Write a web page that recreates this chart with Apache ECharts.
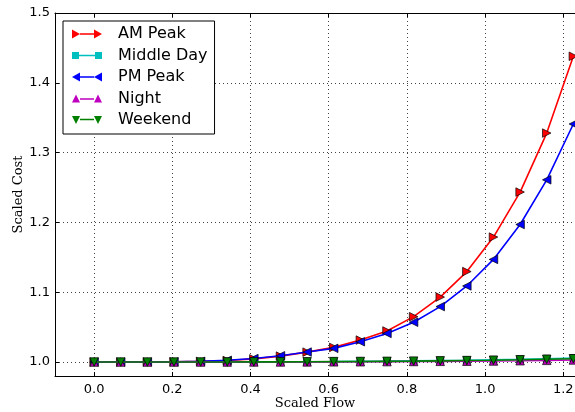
<!DOCTYPE html>
<html>
<head>
<meta charset="utf-8">
<script src="https://cdn.jsdelivr.net/npm/echarts@6/dist/echarts.min.js"></script>
<style>
html,body{margin:0;padding:0;background:#fff;}
#chart{width:575px;height:412px;}
</style>
</head>
<body>
<div id="chart"></div>
<script>
// ---- data ----
const flow = [0, 0.0681, 0.1362, 0.2043, 0.2724, 0.3405, 0.4086, 0.4767, 0.5448, 0.6129,
  0.681, 0.7491, 0.8172, 0.8853, 0.9534, 1.0215, 1.0896, 1.1577, 1.2258];
const amPeak = [1.0, 1.0, 1.0001, 1.0003, 1.0009, 1.0022, 1.0045, 1.0085, 1.0142, 1.021,
  1.0315, 1.0445, 1.065, 1.093, 1.1296, 1.179, 1.2435, 1.328, 1.438];
const middleDay = [1.0, 1.0, 1.0, 1.0, 1.0001, 1.0001, 1.0002, 1.0003, 1.0005, 1.0007,
  1.001, 1.0013, 1.0017, 1.0021, 1.0026, 1.0032, 1.0039, 1.0048, 1.0058];
const pmPeak = [1.0, 1.0, 1.0001, 1.0003, 1.001, 1.0025, 1.005, 1.009, 1.0143, 1.0196,
  1.029, 1.041, 1.057, 1.0794, 1.109, 1.147, 1.197, 1.261, 1.341];
const night = [1.0, 1.0, 1.0, 1.0, 1.0, 1.0, 1.0001, 1.0001, 1.0002, 1.0003,
  1.0004, 1.0006, 1.0008, 1.001, 1.0012, 1.0015, 1.0019, 1.0024, 1.003];
const weekend = [1.0, 1.0, 1.0, 1.0, 1.0, 1.0001, 1.0002, 1.0003, 1.0004, 1.0006,
  1.0008, 1.001, 1.0013, 1.0017, 1.0021, 1.0026, 1.0032, 1.0039, 1.0047];
const xTicks = [0.0, 0.2, 0.4, 0.6, 0.8, 1.0, 1.2];
const yTicks = [1.0, 1.1, 1.2, 1.3, 1.4, 1.5];
const seriesNames = ['AM Peak', 'Middle Day', 'PM Peak', 'Night', 'Weekend'];

// ---- styles ----
const colors = ['#ff0000', '#00bfbf', '#0000ff', '#bf00bf', '#007f00'];
const symbols = ['triangle', 'rect', 'triangle', 'triangle', 'triangle'];
const rotations = [-90, 0, 90, 0, 180];
const legendIcons = [
  'path://M0 0L8 4.5L0 9ZM8 3.7L22 3.7L22 5.3L8 5.3ZM22 0L30 4.5L22 9Z',
  'path://M0 1L7 1L7 8L0 8ZM7 3.7L23 3.7L23 5.3L7 5.3ZM23 1L30 1L30 8L23 8Z',
  'path://M8 0L0 4.5L8 9ZM8 3.7L22 3.7L22 5.3L8 5.3ZM30 0L22 4.5L30 9Z',
  'path://M0 8L4 0L8 8ZM8 3.7L22 3.7L22 5.3L8 5.3ZM22 8L26 0L30 8Z',
  'path://M0 1L4 9L8 1ZM8 3.7L22 3.7L22 5.3L8 5.3ZM22 1L26 9L30 1Z'
];
const dataSets = [amPeak, middleDay, pmPeak, night, weekend];

const chart = echarts.init(document.getElementById('chart'), null, {renderer: 'canvas'});
const sans = 'DejaVu Sans';
const serif = 'DejaVu Serif';

const series = seriesNames.map((name, i) => ({
  name: name,
  type: 'line',
  data: flow.map((x, j) => [x, dataSets[i][j]]),
  symbol: symbols[i],
  symbolRotate: rotations[i],
  symbolSize: symbols[i] === 'rect' ? 7 : 8.5,
  showSymbol: true,
  showAllSymbol: true,
  color: colors[i],
  lineStyle: {color: colors[i], width: 1.6},
  itemStyle: {color: colors[i], borderColor: '#000', borderWidth: 0.7},
  emphasis: {disabled: true},
  animation: false,
  z: 2 + i
}));

const gridLine = {show: true, lineStyle: {color: '#444', width: 1, type: [1, 3]}};

chart.setOption({
  animation: false,
  backgroundColor: '#fff',
  grid: {left: 55, right: 0, top: 13, bottom: 36, containLabel: false, outerBoundsMode: 'none'},
  legend: {
    data: seriesNames.map((n, i) => ({name: n, icon: legendIcons[i]})),
    orient: 'vertical',
    left: 63,
    top: 21,
    padding: [5, 7, 6, 9],
    itemWidth: 30,
    itemHeight: 9,
    itemGap: 5.5,
    borderColor: '#000',
    borderWidth: 1,
    borderRadius: 0,
    backgroundColor: '#fff',
    selectedMode: false,
    itemStyle: {borderWidth: 0},
    textStyle: {fontFamily: sans, fontSize: 16, color: '#000', padding: [0, 0, 0, 11], lineHeight: 16},
    z: 20
  },
  xAxis: [{
    type: 'value',
    min: -0.1,
    max: 1.23,
    position: 'bottom',
    name: 'Scaled Flow',
    nameLocation: 'middle',
    nameGap: 21,
    nameMoveOverlap: false,
    nameTextStyle: {fontFamily: serif, fontSize: 13, color: '#000'},
    axisLine: {show: true, onZero: false, lineStyle: {color: '#000', width: 1}},
    axisTick: {show: true, inside: true, length: 4, customValues: xTicks, lineStyle: {color: '#000'}},
    axisLabel: {customValues: xTicks, fontFamily: sans, fontSize: 13, color: '#000', margin: 7,
      formatter: v => v.toFixed(1)},
    splitLine: gridLine
  }, {
    type: 'value',
    min: -0.1,
    max: 1.23,
    position: 'top',
    axisLine: {show: true, onZero: false, lineStyle: {color: '#000', width: 1}},
    axisTick: {show: true, inside: true, length: 4, customValues: xTicks, lineStyle: {color: '#000'}},
    axisLabel: {show: false},
    splitLine: {show: false}
  }],
  yAxis: [{
    type: 'value',
    min: 0.98,
    max: 1.5,
    name: 'Scaled Cost',
    nameLocation: 'middle',
    nameGap: 30,
    nameMoveOverlap: false,
    nameTextStyle: {fontFamily: serif, fontSize: 13, color: '#000'},
    axisLine: {show: true, onZero: false, lineStyle: {color: '#000', width: 1}},
    axisTick: {show: true, inside: true, length: 4, customValues: yTicks, lineStyle: {color: '#000'}},
    axisLabel: {customValues: yTicks, fontFamily: sans, fontSize: 13, color: '#000', margin: 5,
      formatter: v => v.toFixed(1)},
    splitLine: gridLine
  }],
  series: series
});
</script>
</body>
</html>
